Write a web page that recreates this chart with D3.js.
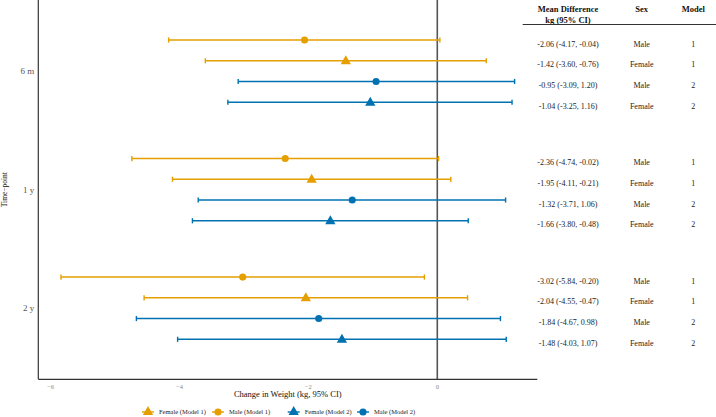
<!DOCTYPE html>
<html>
<head>
<meta charset="utf-8">
<script src="https://cdn.jsdelivr.net/npm/d3@7"></script>
<style>
  body { margin: 0; background: #fff; }
  svg text { font-family: "Liberation Serif", "DejaVu Serif", serif; }
</style>
</head>
<body>
<div id="chart"></div>
<script>
// time points and groups (top to bottom inside each time point)
const timePoints = ["6 m", "1 y", "2 y"];
const groups = ["Male (Model 1)", "Female (Model 1)", "Male (Model 2)", "Female (Model 2)"];
const sexes = ["Male", "Female", "Male", "Female"];
const models = ["1", "1", "2", "2"];

// plotted estimates
const estimates = [
  [-2.06, -1.42, -0.95, -1.04],
  [-2.36, -1.95, -1.32, -1.66],
  [-3.02, -2.04, -1.84, -1.48]
];
const lower = [
  [-4.17, -3.60, -3.09, -3.25],
  [-4.74, -4.11, -3.71, -3.80],
  [-5.84, -4.55, -4.67, -4.03]
];
const upper = [
  [0.04, 0.76, 1.20, 1.16],
  [0.02, 0.21, 1.06, 0.48],
  [-0.20, 0.47, 0.98, 1.07]
];
// table labels as printed
const tableText = [
  ["-2.06 (-4.17, -0.04)", "-1.42 (-3.60, -0.76)", "-0.95 (-3.09, 1.20)", "-1.04 (-3.25, 1.16)"],
  ["-2.36 (-4.74, -0.02)", "-1.95 (-4.11, -0.21)", "-1.32 (-3.71, 1.06)", "-1.66 (-3.80, -0.48)"],
  ["-3.02 (-5.84, -0.20)", "-2.04 (-4.55, -0.47)", "-1.84 (-4.67, 0.98)", "-1.48 (-4.03, 1.07)"]
];
const xTicks = [-6, -4, -2, 0];
const legendOrder = ["Female (Model 1)", "Male (Model 1)", "Female (Model 2)", "Male (Model 2)"];

const orange = "#E69F00", blue = "#0072B2";
const colorOf = g => g.includes("Model 1") ? orange : blue;
const shapeOf = g => g.startsWith("Female") ? d3.symbolTriangle : d3.symbolCircle;
const FONT = "'Liberation Serif', 'DejaVu Serif', serif";

const rows = [];
timePoints.forEach((t, i) => groups.forEach((g, j) => rows.push({
  time: t, group: g, est: estimates[i][j], lo: lower[i][j], hi: upper[i][j],
  label: tableText[i][j], sex: sexes[j], model: models[j]
})));

const W = 716, H = 417;
const panel = {left: 38.3, right: 537.3, top: 0, bottom: 379.3};

const svg = d3.select("#chart").append("svg")
  .attr("width", W).attr("height", H)
  .attr("font-family", FONT);

// x scale with 5% padding like ggplot
const xMin = d3.min(rows, d => d.lo), xMax = d3.max(rows, d => d.hi);
const pad = (xMax - xMin) * 0.05;
const x = d3.scaleLinear().domain([xMin - pad, xMax + pad]).range([panel.left, panel.right]);

// discrete y: 3 bands, 0.6 expansion, dodge width 0.7
const yPos = d3.scaleLinear().domain([0.4, 3.6]).range([panel.top, panel.bottom]);
const dodge = 0.7 / groups.length;
const yRow = d => yPos(timePoints.indexOf(d.time) + 1 + (groups.indexOf(d.group) - 1.5) * dodge);

// zero reference line
svg.append("line")
  .attr("x1", x(0)).attr("x2", x(0))
  .attr("y1", panel.top).attr("y2", panel.bottom)
  .attr("stroke", "#555").attr("stroke-width", 1.6);

// error bars
const bars = svg.append("g").selectAll("g").data(rows).enter().append("g")
  .attr("stroke", d => colorOf(d.group)).attr("stroke-width", 1.4);
bars.append("line")
  .attr("x1", d => x(d.lo)).attr("x2", d => x(d.hi))
  .attr("y1", yRow).attr("y2", yRow);
bars.append("line")
  .attr("x1", d => x(d.lo)).attr("x2", d => x(d.lo))
  .attr("y1", d => yRow(d) - 2.6).attr("y2", d => yRow(d) + 2.6);
bars.append("line")
  .attr("x1", d => x(d.hi)).attr("x2", d => x(d.hi))
  .attr("y1", d => yRow(d) - 2.6).attr("y2", d => yRow(d) + 2.6);

// points
svg.append("g").selectAll("path").data(rows).enter().append("path")
  .attr("transform", d => `translate(${x(d.est)},${yRow(d) + (shapeOf(d.group) === d3.symbolTriangle ? 0.5 : 0)})`)
  .attr("d", d => d3.symbol().type(shapeOf(d.group)).size(shapeOf(d.group) === d3.symbolTriangle ? 46 : 40)())
  .attr("fill", d => colorOf(d.group));

// axes lines (left and bottom)
svg.append("line")
  .attr("x1", panel.left).attr("x2", panel.left)
  .attr("y1", panel.top).attr("y2", panel.bottom)
  .attr("stroke", "#333").attr("stroke-width", 1.2);
svg.append("line")
  .attr("x1", panel.left).attr("x2", panel.right)
  .attr("y1", panel.bottom).attr("y2", panel.bottom)
  .attr("stroke", "#333").attr("stroke-width", 1.2);

// x tick labels
svg.append("g").selectAll("text").data(xTicks).enter().append("text")
  .attr("x", d => x(d)).attr("y", panel.bottom + 10)
  .attr("text-anchor", "middle")
  .attr("font-size", 6.5).attr("fill", "#888")
  .text(d => d3.format("")(d).replace("-", "\u2212"));

// y tick labels
svg.append("g").selectAll("text").data(timePoints).enter().append("text")
  .attr("x", panel.left - 4).attr("y", (d, i) => yPos(i + 1))
  .attr("dy", "0.35em").attr("text-anchor", "end")
  .attr("font-size", 9).attr("fill", "#555")
  .text(d => d);

// axis titles
svg.append("text")
  .attr("x", (panel.left + panel.right) / 2).attr("y", panel.bottom + 17.5)
  .attr("text-anchor", "middle").attr("font-size", 8.5).attr("fill", "#111")
  .text("Change in Weight (kg, 95% CI)");
svg.append("text")
  .attr("transform", `translate(7,${(panel.top + panel.bottom) / 2}) rotate(-90)`)
  .attr("text-anchor", "middle").attr("font-size", 7.5).attr("fill", "#111")
  .text("Time\u2212point");

// table header
const colX = {md: 568, sex: 641.7, model: 693.3};
const header = svg.append("g").attr("font-size", 8.5).attr("font-weight", "bold")
  .attr("fill", "#111").attr("text-anchor", "middle");
header.append("text").attr("x", colX.md).attr("y", 12).text("Mean Difference");
header.append("text").attr("x", colX.md).attr("y", 22.5).text("kg (95% CI)");
header.append("text").attr("x", colX.sex).attr("y", 12).text("Sex");
header.append("text").attr("x", colX.model).attr("y", 12).text("Model");
svg.append("line")
  .attr("x1", 522.7).attr("x2", W)
  .attr("y1", 24.5).attr("y2", 24.5)
  .attr("stroke", "#333").attr("stroke-width", 1);

// table rows
const tab = svg.append("g").attr("font-size", 8).attr("fill", "#222").attr("text-anchor", "middle");
const tabY = d => yRow(d) + 4 + 2.6;
tab.selectAll(".md").data(rows).enter().append("text")
  .attr("x", colX.md).attr("y", tabY).text(d => d.label);
tab.selectAll(".sx").data(rows).enter().append("text")
  .attr("x", colX.sex).attr("y", tabY).text(d => d.sex);
tab.selectAll(".mo").data(rows).enter().append("text")
  .attr("x", colX.model).attr("y", tabY).text(d => d.model);

// legend
const legX = [148, 218, 293.7, 363];
const legend = svg.append("g").selectAll("g").data(legendOrder).enter().append("g")
  .attr("transform", (d, i) => `translate(${legX[i]},${H - 5})`);
legend.append("line")
  .attr("x1", -6).attr("x2", 6)
  .attr("stroke", d => colorOf(d)).attr("stroke-width", 1.4);
legend.append("path")
  .attr("d", d => d3.symbol().type(shapeOf(d)).size(shapeOf(d) === d3.symbolTriangle ? 46 : 40)())
  .attr("fill", d => colorOf(d));
legend.append("text")
  .attr("x", 11).attr("dy", "0.35em")
  .attr("font-size", 6.5).attr("fill", "#222")
  .text(d => d);
</script>
</body>
</html>
